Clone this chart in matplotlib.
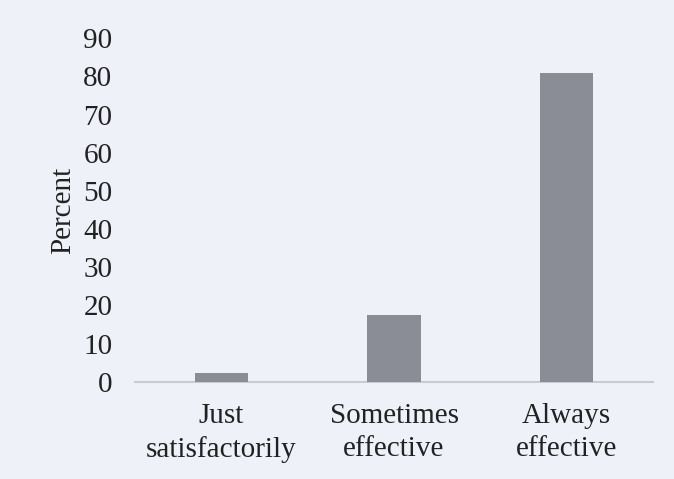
import matplotlib
matplotlib.use("Agg")
import matplotlib.pyplot as plt

categories = ["Just\nsatisfactorily", "Sometimes\neffective", "Always\neffective"]
values = [2.2, 17.5, 81.0]
yticks = [0, 10, 20, 30, 40, 50, 60, 70, 80, 90]

bg = "#eff1f8"
plt.rcParams["font.family"] = ["Liberation Serif", "DejaVu Serif"]

fig = plt.figure(figsize=(6.74, 4.79), dpi=100, facecolor=bg)
ax = fig.add_axes([0.2007, 0.2031, 0.7678, 0.7169], facecolor=bg)

x = list(range(len(categories)))
ax.bar(x, values, width=0.31, color="#8a8d96", zorder=3)

ax.set_xlim(-0.5, 2.5)
ax.set_ylim(0, 90)
ax.set_yticks(yticks)
ax.set_yticklabels([str(t) for t in yticks])
ax.set_xticks(x)
ax.set_xticklabels(categories, linespacing=1.32)

for s in ["top", "right", "left"]:
    ax.spines[s].set_visible(False)
ax.spines["bottom"].set_color("#c9cbd3")
ax.spines["bottom"].set_linewidth(1.5)

ax.tick_params(axis="y", length=0, pad=16.5, labelsize=21, labelcolor="#222222")
ax.tick_params(axis="x", length=0, pad=15.5, labelsize=21, labelcolor="#222222")
ax.set_ylabel("Percent", fontsize=21, color="#222222", labelpad=5)

fig.savefig("out.png", dpi=100, facecolor=bg)
